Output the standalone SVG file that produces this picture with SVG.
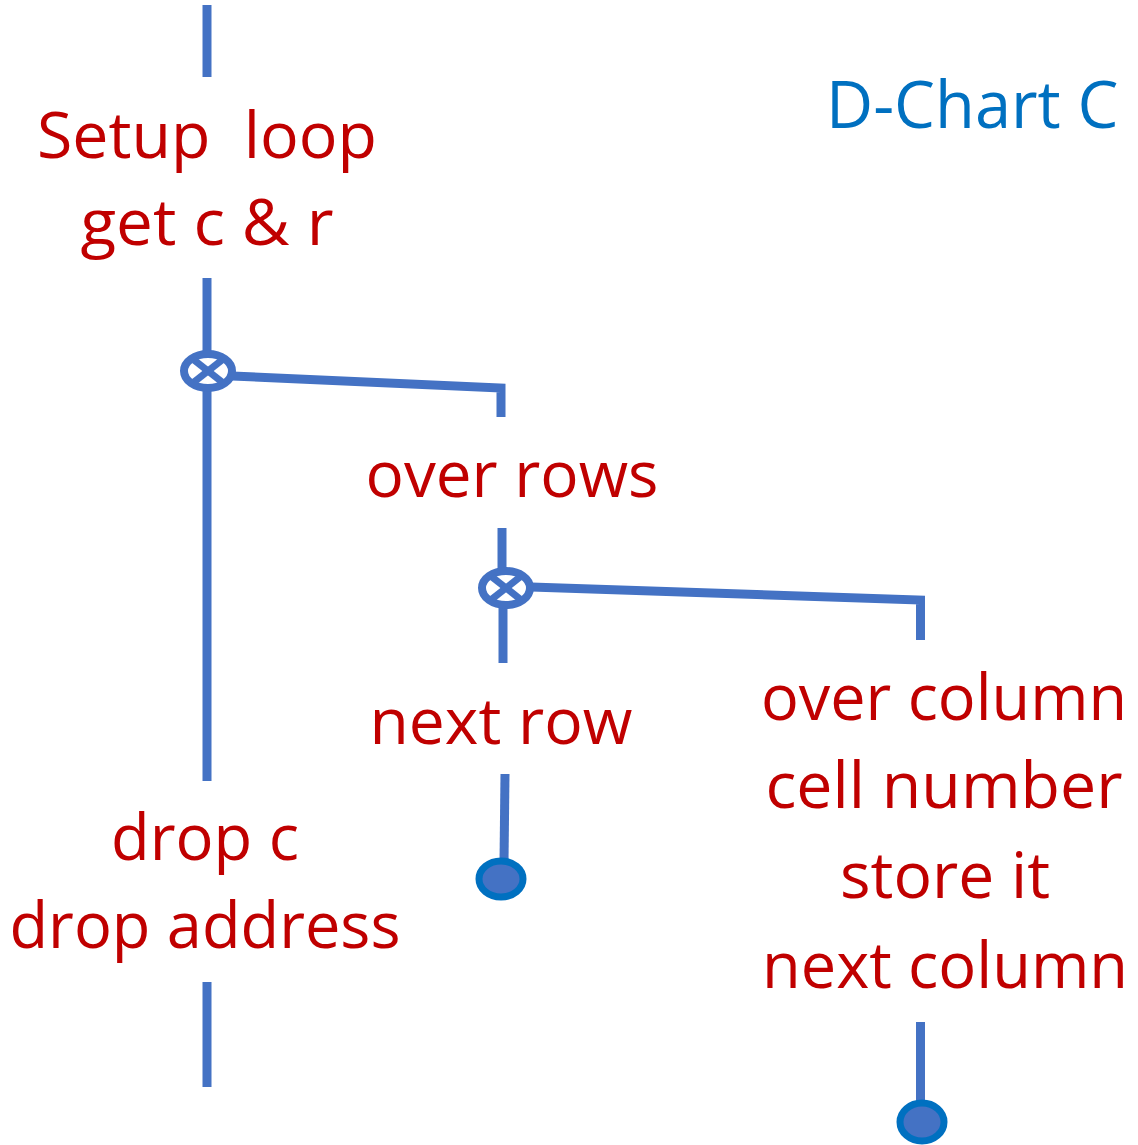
<svg xmlns="http://www.w3.org/2000/svg" width="1138" height="1145" viewBox="0 0 1138 1145">
<style>
.ln{stroke:#4472C4;stroke-width:9;fill:none}
.jn{stroke:#4472C4;stroke-width:8;fill:#fff}
.x{stroke:#4472C4;stroke-width:7}
.end{fill:#4472C4;stroke:#0070C0;stroke-width:7}
.t{font-family:"Open Sans","Noto Sans",sans-serif;font-size:64px;fill:#C00000;text-anchor:middle}
.title{font-family:"Open Sans","Noto Sans",sans-serif;font-size:65px;fill:#0070C0}
</style>
<rect width="1138" height="1145" fill="#fff"/>
<g id="connectors">
<line class="ln" x1="207" y1="5" x2="207" y2="77"/>
<line class="ln" x1="207" y1="278" x2="207" y2="352"/>
<line class="ln" x1="207" y1="390" x2="207" y2="781"/>
<polyline class="ln" points="232,376 501,388 501,417"/>
<line class="ln" x1="502" y1="528" x2="502" y2="570"/>
<line class="ln" x1="503" y1="606" x2="503" y2="663"/>
<polyline class="ln" points="531,587 920.5,600 920.5,640"/>
<line class="ln" x1="505" y1="774" x2="504" y2="862"/>
<line class="ln" x1="207" y1="982" x2="207" y2="1087"/>
<line class="ln" x1="920.5" y1="1022" x2="920.5" y2="1104"/>
</g>
<g id="title"><text class="title" x="826" y="128">D-Chart C</text></g>
<g id="setup"><text class="t" x="207" y="158" textLength="340" lengthAdjust="spacingAndGlyphs" xml:space="preserve">Setup  loop</text><text class="t" x="207" y="245" textLength="253" lengthAdjust="spacingAndGlyphs">get c &amp; r</text></g>
<g id="junction1"><ellipse class="jn" cx="208" cy="371" rx="24" ry="17"/><line class="x" x1="194" y1="360" x2="222" y2="382"/><line class="x" x1="222" y1="360" x2="194" y2="382"/></g>
<g id="overrows"><text class="t" x="512" y="497" textLength="293" lengthAdjust="spacingAndGlyphs">over rows</text></g>
<g id="junction2"><ellipse class="jn" cx="506" cy="588" rx="24" ry="17"/><line class="x" x1="492" y1="577" x2="520" y2="599"/><line class="x" x1="520" y1="577" x2="492" y2="599"/></g>
<g id="nextrow"><text class="t" x="501" y="744" textLength="263" lengthAdjust="spacingAndGlyphs">next row</text></g>
<g id="end1"><ellipse class="end" cx="501" cy="879" rx="22" ry="18"/></g>
<g id="drop"><text class="t" x="205" y="860" textLength="188" lengthAdjust="spacingAndGlyphs">drop c</text><text class="t" x="205" y="948" textLength="391" lengthAdjust="spacingAndGlyphs">drop address</text></g>
<g id="columns"><text class="t" x="944" y="720" textLength="366" lengthAdjust="spacingAndGlyphs">over column</text><text class="t" x="944" y="808" textLength="357" lengthAdjust="spacingAndGlyphs">cell number</text><text class="t" x="945" y="898" textLength="210" lengthAdjust="spacingAndGlyphs">store it</text><text class="t" x="945" y="988" textLength="366" lengthAdjust="spacingAndGlyphs">next column</text></g>
<g id="end2"><ellipse class="end" cx="922" cy="1122" rx="22" ry="19"/></g>
</svg>
